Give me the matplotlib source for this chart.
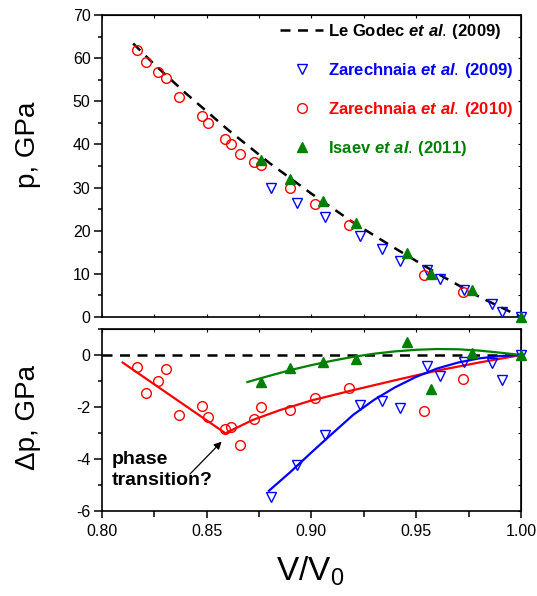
import numpy as np
import matplotlib
matplotlib.use('Agg')
import matplotlib.pyplot as plt
from matplotlib.ticker import MultipleLocator

plt.rcParams['font.family'] = ['Liberation Sans', 'DejaVu Sans']
plt.rcParams['mathtext.fontset'] = 'custom'
plt.rcParams['mathtext.rm'] = 'Liberation Sans'
plt.rcParams['mathtext.it'] = 'Liberation Sans:italic:bold'
plt.rcParams['mathtext.bf'] = 'Liberation Sans:bold'
plt.rcParams['axes.unicode_minus'] = False

# Le Godec et al. (2009) EOS curve
lg_x = [0.815, 0.825, 0.84, 0.86, 0.88, 0.90, 0.92, 0.94, 0.96, 0.98, 1.0]
lg_p = [63.4, 58.6, 51.9, 43.5, 35.7, 28.6, 21.9, 15.9, 10.1, 4.7, 0.0]

# Zarechnaia et al. (2009)
z09_x = [0.8808, 0.8932, 0.9067, 0.9232, 0.9339, 0.9421, 0.9553, 0.9614, 0.9728, 0.9863, 0.9909, 1.0]
z09_p = [29.8, 26.5, 23.1, 18.8, 15.7, 12.9, 10.8, 8.7, 6.2, 2.9, 1.2, 0.0]
z09_dp = [-5.45, -4.23, -3.08, -1.92, -1.76, -2.05, -0.42, -0.81, -0.26, -0.32, -0.96, 0.0]

# Zarechnaia et al. (2010)
z10_x = [0.8167, 0.821, 0.8267, 0.8308, 0.8367, 0.8479, 0.8507, 0.8587, 0.8618, 0.866,
         0.8727, 0.8758, 0.8897, 0.9017, 0.9178, 0.9539, 0.9725]
z10_p = [62.0, 59.1, 56.9, 55.5, 51.0, 46.6, 44.9, 41.2, 40.1, 37.8,
         36.0, 35.2, 30.0, 26.3, 21.3, 9.7, 5.7]
z10_dp = [-0.46, -1.45, -0.99, -0.54, -2.29, -1.97, -2.40, -2.83, -2.77, -3.46,
          -2.45, -2.01, -2.12, -1.67, -1.26, -2.15, -0.91]

# Isaev et al. (2011)
is_x = [0.8762, 0.8898, 0.9054, 0.9212, 0.9458, 0.9569, 0.9768, 1.0]
is_p = [36.4, 32.1, 26.9, 21.7, 14.9, 9.9, 6.2, 0.0]
is_dp = [-1.05, -0.49, -0.26, -0.15, 0.50, -1.31, 0.09, 0.0]

# guide lines in the lower panel
red_fx = [0.81, 0.859, 0.872, 0.885, 0.90, 0.92, 0.94, 0.96, 0.98, 1.0]
red_fy = [-0.29, -3.01, -2.5, -2.12, -1.75, -1.35, -0.97, -0.6, -0.29, 0.0]
blue_fx = [0.8798, 0.89, 0.90, 0.91, 0.92, 0.93, 0.94, 0.95, 0.96, 0.97, 0.98, 0.99, 1.0]
blue_fy = [-5.22, -4.50, -3.75, -3.02, -2.30, -1.72, -1.24, -0.84, -0.52, -0.29, -0.13, -0.04, 0.0]
green_fx = [0.8695, 0.88, 0.89, 0.90, 0.91, 0.92, 0.93, 0.94, 0.95, 0.96, 0.97, 0.98, 0.99, 1.0]
green_fy = [-1.04, -0.80, -0.58, -0.39, -0.22, -0.07, 0.05, 0.14, 0.20, 0.23, 0.22, 0.17, 0.09, 0.0]

BLUE = '#0000ff'
RED = '#ff0000'
GREEN = '#008000'

W, H = 537, 596
fig = plt.figure(figsize=(W / 100, H / 100), dpi=100)
L, R = 101.7, 521
ax1 = fig.add_axes([L / W, 1 - 317 / H, (R - L) / W, (317 - 15) / H])
ax2 = fig.add_axes([L / W, 1 - 511 / H, (R - L) / W, (511 - 329) / H])

mk = dict(linestyle='none', markersize=7, markeredgewidth=1.0, clip_on=False)

# ---- top panel
h0, = ax1.plot(lg_x, lg_p, color='k', lw=1.8, dashes=(4, 3), zorder=2)
h1, = ax1.plot(z09_x, z09_p, marker='v', markerfacecolor='none', markeredgecolor=BLUE, **mk, zorder=3)
h2, = ax1.plot(z10_x, z10_p, marker='o', markerfacecolor='none', markeredgecolor=RED, **mk, zorder=3)
h3, = ax1.plot(is_x, is_p, marker='^', color=GREEN, **mk, zorder=4)

ax1.set_xlim(0.8, 1.0)
ax1.set_ylim(0, 70)
ax1.yaxis.set_major_locator(MultipleLocator(10))
ax1.yaxis.set_minor_locator(MultipleLocator(5))
ax1.xaxis.set_major_locator(MultipleLocator(0.05))
ax1.xaxis.set_minor_locator(MultipleLocator(0.025))

leg = ax1.legend([h0, h1, h2, h3],
                 [r'Le Godec $\mathit{et\ al.\,}$(2009)',
                  r'Zarechnaia $\mathit{et\ al.\,}$(2009)',
                  r'Zarechnaia $\mathit{et\ al.\,}$(2010)',
                  r'Isaev $\mathit{et\ al.\,}$(2011)'],
                 loc='upper left', bbox_to_anchor=(0.425, 0.976), frameon=False,
                 prop={'weight': 'bold', 'size': 12}, handlelength=2.6,
                 handletextpad=0.3, labelspacing=1.2, borderpad=0, borderaxespad=0,
                 numpoints=1)
for t, c in zip(leg.get_texts(), ['k', BLUE, RED, GREEN]):
    t.set_color(c)

# ---- bottom panel
ax2.axhline(0, color='k', lw=1.8, dashes=(4, 3), zorder=1)
ax2.plot(red_fx, red_fy, color=RED, lw=1.6, zorder=2)
ax2.plot(blue_fx, blue_fy, color=BLUE, lw=1.6, zorder=2)
ax2.plot(green_fx, green_fy, color=GREEN, lw=1.6, zorder=2)
ax2.plot(z09_x, z09_dp, marker='v', markerfacecolor='none', markeredgecolor=BLUE, **mk, zorder=3)
ax2.plot(z10_x, z10_dp, marker='o', markerfacecolor='none', markeredgecolor=RED, **mk, zorder=3)
ax2.plot(is_x, is_dp, marker='^', color=GREEN, **mk, zorder=4)

ax2.set_xlim(0.8, 1.0)
ax2.set_ylim(-6, 1)
ax2.yaxis.set_major_locator(MultipleLocator(2))
ax2.yaxis.set_minor_locator(MultipleLocator(1))
ax2.xaxis.set_major_locator(MultipleLocator(0.05))
ax2.xaxis.set_minor_locator(MultipleLocator(0.025))
ax2.xaxis.set_major_formatter(matplotlib.ticker.FormatStrFormatter('%.2f'))
ax2.set_yticks([-6, -4, -2, 0])

ax2.text(0.8046, -3.68, 'phase\ntransition?', fontsize=14, fontweight='bold',
         va='top', ha='left', linespacing=1.35)
ax2.annotate('', xy=(0.8572, -3.33), xytext=(0.8421, -4.58),
             arrowprops=dict(arrowstyle='-|>', color='k', lw=0.9, mutation_scale=11,
                             shrinkA=0, shrinkB=0))

# ---- frames and ticks
for ax in (ax1, ax2):
    for s in ax.spines.values():
        s.set_linewidth(1.2)
    ax.tick_params(axis='y', which='major', direction='out', length=6, width=1.1,
                   labelsize=11.5, pad=2)
    ax.tick_params(axis='y', which='minor', direction='out', length=3, width=1.1)
    sy = ax.secondary_yaxis('right')
    sy.yaxis.set_major_locator(MultipleLocator(1 if ax is ax2 else 5))
    sy.tick_params(direction='in', length=2, width=0.8, labelright=False)
    sx = ax.secondary_xaxis('top')
    sx.xaxis.set_major_locator(MultipleLocator(0.025))
    sx.tick_params(direction='in', length=2, width=0.8, labeltop=False)

ax1.tick_params(axis='x', which='both', direction='in', length=2, width=0.8, labelbottom=False)
ax2.tick_params(axis='x', which='major', direction='out', length=5, width=1.1,
                labelsize=11.5, pad=4)
ax2.tick_params(axis='x', which='minor', direction='out', length=4, width=1.1)

fig.text(28 / W, 1 - 145 / H, 'p, GPa', rotation=90, ha='center', va='center', fontsize=20)
fig.text(28 / W, 1 - 418 / H, '\u0394p, GPa', rotation=90, ha='center', va='center', fontsize=20)
fig.text(310 / W, 1 - 581 / H, r'V/V$_\mathregular{0}$', ha='center', va='baseline', fontsize=24)

fig.savefig('out.png', dpi=100)
